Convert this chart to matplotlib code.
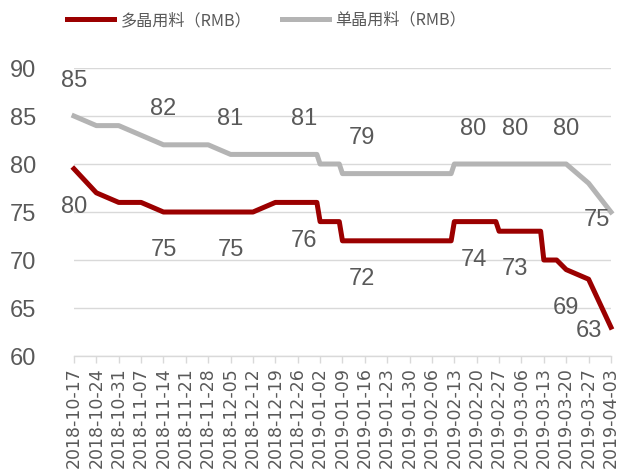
import pandas as pd
import numpy as np
import matplotlib
matplotlib.use('Agg')
import matplotlib.pyplot as plt
import matplotlib.dates as mdates

# weekly price quotes, with extra points where prices changed mid-week
dates = ['2018-10-17', '2018-10-24', '2018-10-31', '2018-11-07', '2018-11-14',
         '2018-11-21', '2018-11-28', '2018-12-05', '2018-12-12', '2018-12-19',
         '2018-12-28', '2019-01-01', '2019-01-02', '2019-01-08', '2019-01-09',
         '2019-01-15', '2019-01-23', '2019-01-30', '2019-02-06', '2019-02-12',
         '2019-02-13', '2019-02-19', '2019-02-26', '2019-02-27', '2019-03-04',
         '2019-03-12', '2019-03-13', '2019-03-17', '2019-03-20', '2019-03-27',
         '2019-04-03']
poly = [79.5, 77, 76, 76, 75, 75, 75, 75, 75, 76,
        76, 76, 74, 74, 72, 72, 72, 72, 72, 72,
        74, 74, 74, 73, 73, 73, 70, 70, 69, 68,
        63]
mono = [85, 84, 84, 83, 82, 82, 82, 81, 81, 81,
        81, 81, 80, 80, 79, 79, 79, 79, 79, 79,
        80, 80, 80, 80, 80, 80, 80, 80, 80, 78,
        75]
label_dates = ['2018-10-17', '2018-11-14', '2018-12-05', '2018-12-28', '2019-01-15',
               '2019-02-19', '2019-03-04', '2019-03-20', '2019-04-03']

poly_name = '多晶用料（RMB）'
mono_name = '单晶用料（RMB）'

df = pd.DataFrame({'poly': poly, 'mono': mono}, index=pd.to_datetime(dates))

RED = '#9b0000'
GRAY = '#b4b4b4'
TXT = '#595959'
GRID = '#d9d9d9'

plt.rcParams['font.family'] = ['Liberation Sans', 'DejaVu Sans']

fig = plt.figure(figsize=(6.19, 4.75), dpi=100)
ax = fig.add_axes([0.1195, 0.2505, 0.8675, 0.6063])

l1, = ax.plot(df.index, df['poly'], color=RED, lw=3.6, label=poly_name, clip_on=False)
l2, = ax.plot(df.index, df['mono'], color=GRAY, lw=3.6, label=mono_name, clip_on=False)

# value labels: single-crystal above the line, poly below; last ones tucked left
for i, d in enumerate(pd.to_datetime(label_dates)):
    last = i == len(label_dates) - 1
    vm = df.loc[d, 'mono']
    vp = df.loc[d, 'poly']
    off_m = (-10, -5.5) if last else (0, 25.5)
    off_p = (-16, -2.5) if last else (0, -27.5)
    ax.annotate(f'{vm:.0f}', (d, vm), xytext=off_m, textcoords='offset points',
                ha='center', va='center', fontsize=17, color=TXT)
    ax.annotate(f'{vp:.0f}', (d, vp), xytext=off_p, textcoords='offset points',
                ha='center', va='center', fontsize=17, color=TXT)

ax.set_ylim(60, 90)
ax.set_yticks(range(60, 91, 5))
ax.set_xlim(df.index[0], df.index[-1])
ticks = pd.date_range(df.index[0], df.index[-1], freq='7D')
ax.set_xticks(ticks)
ax.set_xticklabels([t.strftime('%Y-%m-%d') for t in ticks], rotation=90,
                   fontfamily='DejaVu Sans', fontsize=12.5)

ax.grid(axis='y', color=GRID, lw=1)
ax.set_axisbelow(True)
for s in ['left', 'right', 'top']:
    ax.spines[s].set_visible(False)
ax.spines['bottom'].set_color(GRID)
ax.spines['bottom'].set_linewidth(1)
ax.tick_params(axis='x', direction='out', length=5, width=1, color=GRID,
               labelcolor=TXT, pad=3)
ax.tick_params(axis='y', length=0, labelsize=17, labelcolor=TXT, pad=27)

leg = fig.legend(handles=[l1, l2], loc='center', bbox_to_anchor=(0.4305, 0.957),
                 ncol=2, frameon=False, handlelength=2.9, handletextpad=0.42,
                 columnspacing=1.9, prop={'family': 'Noto Sans CJK SC', 'size': 11.6})
for t in leg.get_texts():
    t.set_color(TXT)

fig.savefig('out.png', dpi=100)
